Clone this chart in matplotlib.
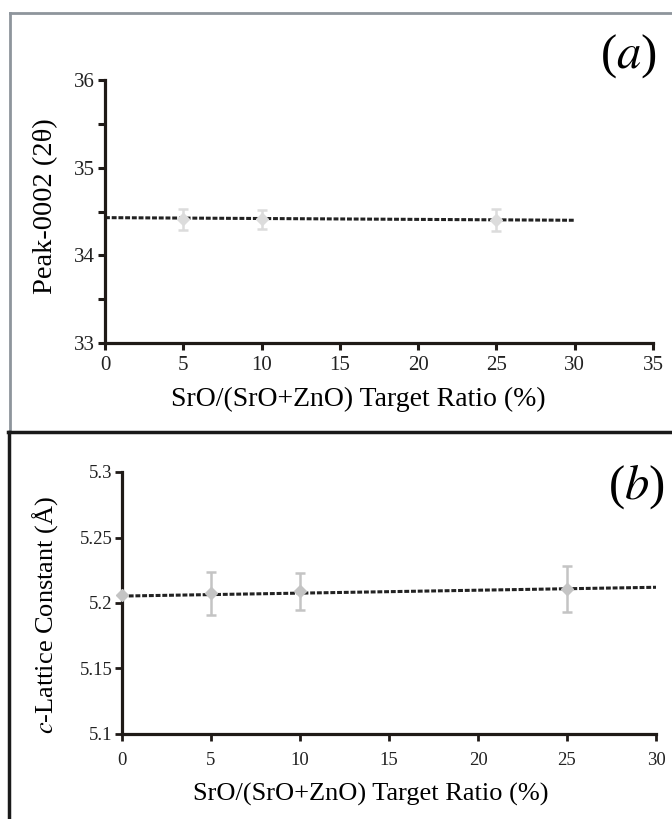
import numpy as np
import matplotlib
matplotlib.use("Agg")
import matplotlib.pyplot as plt
from matplotlib.lines import Line2D

plt.rcParams['font.family'] = ['Liberation Serif', 'DejaVu Serif']
plt.rcParams['mathtext.fontset'] = 'stix'

# ---------- data ----------
# panel (a): peak-0002 position
ratio_a = [5, 10, 25]
peak_a = [34.41, 34.41, 34.40]
peak_err = [0.12, 0.11, 0.125]
trend_x_a = [0, 30]
trend_y_a = [34.43, 34.40]

# panel (b): c-lattice constant
ratio_b = [0, 5, 10, 25]
lattice_b = [5.206, 5.2074, 5.209, 5.2107]
lattice_err = [0.0, 0.0165, 0.014, 0.0174]
trend_x_b = [0, 30]
trend_y_b = [5.2053, 5.212]

xlabel = "SrO/(SrO+ZnO) Target Ratio (%)"

fig = plt.figure(figsize=(6.72, 8.19), dpi=100)

# ---------- panel frames ----------
gray = '#8e959c'
fig.add_artist(Line2D([10/672, 1.0], [1 - 13/819, 1 - 13/819], color=gray, lw=2))
fig.add_artist(Line2D([10/672, 10/672], [1 - 13/819, 1 - 432/819], color=gray, lw=2))
fig.add_artist(Line2D([8/672, 1.0], [1 - 432/819, 1 - 432/819], color='#1a1a1a', lw=2.5))
fig.add_artist(Line2D([9/672, 9/672], [1 - 432/819, 0.0], color='#1a1a1a', lw=2.5))


def style_axes(ax, tick_size, tick_w):
    for s in ['top', 'right']:
        ax.spines[s].set_visible(False)
    for s in ['left', 'bottom']:
        ax.spines[s].set_linewidth(2.3)
        ax.spines[s].set_color('#1f1a17')
    ax.tick_params(direction='out', length=5, width=tick_w, colors='#1f1a17',
                   labelsize=tick_size, labelcolor='#222222', pad=2)
    ax.tick_params(which='minor', direction='out', length=5, width=tick_w, colors='#1f1a17')


# ---------- panel (a) ----------
ax1 = fig.add_axes([105/672, 1 - 343/819, 548/672, 263/819])
ax1.plot(trend_x_a, trend_y_a, color='#222222', lw=2.2, linestyle=(0, (1.6, 0.6)), zorder=2)
ax1.errorbar(ratio_a, peak_a, yerr=peak_err, fmt='D', color='#dcdcdc', ms=6,
             ecolor='#dcdcdc', elinewidth=1.8, capsize=3.5, capthick=1.8, zorder=3)
ax1.set_xlim(0, 35)
ax1.set_ylim(33, 36)
ax1.set_xticks(np.arange(0, 36, 5))
ax1.set_yticks([33, 34, 35, 36])
ax1.set_yticks([33.5, 34.5, 35.5], minor=True)
style_axes(ax1, 15, 2.2)
ax1.tick_params(axis='x', pad=4)
ax1.set_xlabel(xlabel, fontsize=20, labelpad=9)
ax1.set_ylabel("Peak-0002 (2\u03b8)", fontsize=20.5, labelpad=8)
ax1.xaxis.set_label_coords(0.463, -0.168)
ax1.yaxis.set_label_coords(-0.086, 0.52)
fig.text(628/672, 1 - 56/819, "($a$)", fontsize=35, ha='center', va='center')

# ---------- panel (b) ----------
ax2 = fig.add_axes([122/672, 1 - 734/819, 534/672, 262/819])
ax2.plot(trend_x_b, trend_y_b, color='#222222', lw=2.2, linestyle=(0, (1.6, 0.6)), zorder=2)
ax2.errorbar(ratio_b, lattice_b, yerr=lattice_err, fmt='D', color='#c4c4c4', ms=6,
             ecolor='#c4c4c4', elinewidth=1.8, capsize=3.5, capthick=1.8, zorder=4,
             clip_on=False)
ax2.set_xlim(0, 30)
ax2.set_ylim(5.1, 5.3)
ax2.set_xticks(np.arange(0, 31, 5))
ax2.set_yticks([5.1, 5.15, 5.2, 5.25, 5.3])
ax2.set_yticklabels(['5.1', '5.15', '5.2', '5.25', '5.3'])
style_axes(ax2, 13.5, 2.0)
ax2.tick_params(axis='x', pad=8)
ax2.set_xlabel(xlabel, fontsize=19, labelpad=8)
ax2.set_ylabel("$c$-Lattice Constant (\u00c5)", fontsize=19, labelpad=6)
ax2.xaxis.set_label_coords(0.466, -0.188)
ax2.yaxis.set_label_coords(-0.117, 0.455)
fig.text(636/672, 1 - 487/819, "($b$)", fontsize=35, ha='center', va='center')

fig.savefig("out.png", dpi=100)
